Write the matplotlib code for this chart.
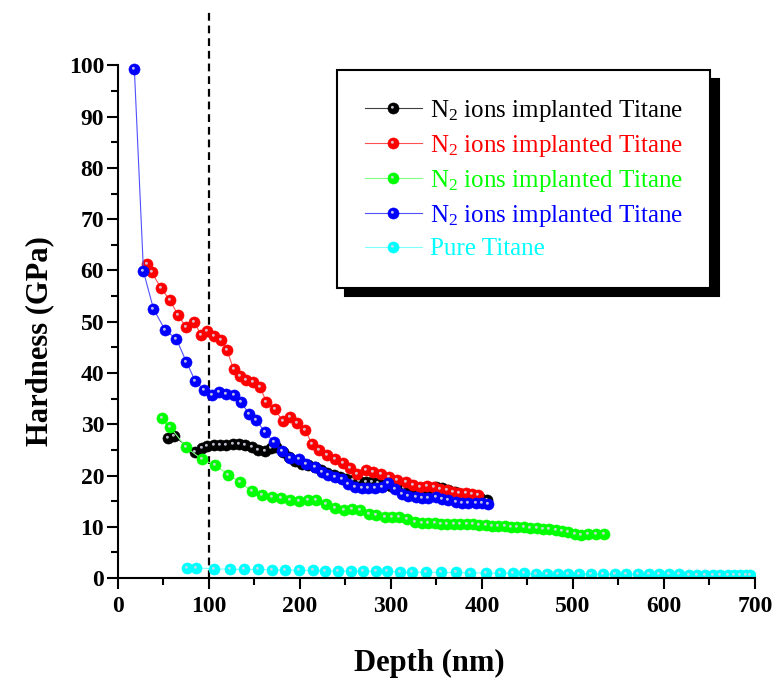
import numpy as np
import matplotlib
matplotlib.use("Agg")
import matplotlib.pyplot as plt
from matplotlib.path import Path
from matplotlib.legend_handler import HandlerTuple

plt.rcParams['font.family'] = ['Liberation Serif', 'DejaVu Serif']
plt.rcParams['mathtext.fontset'] = 'custom'
plt.rcParams['mathtext.rm'] = 'Liberation Serif'
plt.rcParams['mathtext.it'] = 'Liberation Serif:italic'
plt.rcParams['mathtext.bf'] = 'Liberation Serif:bold'

# depth (nm) / hardness (GPa)
black_x = [55, 61, 85, 92, 98, 105, 112, 119, 126, 133, 140, 147, 154, 161, 168, 174,
           181, 188, 195, 202, 209, 216, 223, 230, 237, 244, 251, 258, 265, 272, 279,
           286, 293, 300, 307, 314, 321, 328, 335, 342, 349, 356, 363, 370, 377, 384,
           391, 398, 405]
black_y = [27.4, 27.7, 24.6, 25.3, 25.7, 25.9, 26.0, 26.0, 26.1, 26.1, 26.0, 25.5, 24.9,
           24.8, 25.3, 25.6, 24.5, 23.6, 22.8, 22.3, 22.0, 21.6, 21.0, 20.5, 20.1, 19.7,
           19.4, 19.1, 18.9, 18.8, 18.7, 18.5, 18.2, 17.9, 17.8, 17.6, 17.6, 17.5, 17.5,
           17.6, 17.7, 17.6, 17.2, 16.8, 16.5, 16.2, 15.9, 15.6, 15.3]

red_x = [32, 37, 47, 57, 66, 75, 84, 91, 98, 106, 113, 120, 127, 134, 141, 148, 156, 163,
         172, 181, 189, 197, 206, 213, 221, 230, 238, 247, 255, 263, 273, 280, 289, 298,
         307, 316, 324, 332, 340, 347, 354, 361, 368, 375, 382, 389, 396]
red_y = [61.2, 59.7, 56.6, 54.2, 51.3, 48.9, 50.0, 47.4, 48.2, 47.2, 46.5, 44.4, 40.7,
         39.4, 38.6, 38.3, 37.3, 34.4, 32.9, 30.7, 31.4, 30.2, 28.8, 26.2, 25.0, 24.0,
         23.3, 22.4, 21.4, 20.4, 21.0, 20.7, 20.4, 19.7, 19.1, 18.8, 18.2, 17.8, 17.9,
         17.8, 17.4, 17.1, 16.8, 16.6, 16.6, 16.4, 16.2]

green_x = [48, 57, 75, 92, 107, 121, 134, 147, 158, 169, 179, 189, 199, 209, 218, 229,
           238, 248, 257, 266, 276, 284, 293, 301, 309, 318, 326, 334, 341, 348, 355, 362,
           369, 376, 383, 390, 397, 404, 411, 418, 425, 432, 439, 446, 453, 460, 467, 474,
           481, 488, 495, 502, 509, 517, 525, 534]
green_y = [31.2, 29.5, 25.5, 23.2, 22.0, 20.2, 18.7, 17.0, 16.3, 15.8, 15.7, 15.2, 15.1,
           15.2, 15.3, 14.4, 13.6, 13.3, 13.5, 13.2, 12.6, 12.4, 11.9, 12.0, 11.9, 11.6,
           11.0, 10.8, 10.7, 10.7, 10.6, 10.6, 10.6, 10.6, 10.5, 10.5, 10.4, 10.3, 10.2,
           10.2, 10.1, 10.0, 9.9, 9.9, 9.8, 9.8, 9.6, 9.5, 9.4, 9.2, 9.0, 8.6, 8.5, 8.6,
           8.6, 8.7]

blue_x = [18, 28, 39, 52, 64, 75, 85, 95, 103, 111, 119, 128, 135, 144, 152, 161, 171,
          180, 189, 199, 207, 216, 224, 231, 238, 246, 253, 260, 268, 275, 282, 290, 297,
          304, 312, 319, 327, 334, 341, 349, 356, 363, 371, 378, 385, 393, 400, 407]
blue_y = [99.2, 59.8, 52.5, 48.3, 46.7, 42.2, 38.4, 36.6, 35.7, 36.3, 35.9, 35.8, 34.4,
          32.0, 30.9, 28.5, 26.6, 24.8, 23.4, 23.2, 22.2, 21.7, 20.7, 20.1, 19.7, 19.4,
          18.3, 17.8, 17.5, 17.5, 17.5, 17.7, 18.6, 17.4, 16.4, 16.0, 15.8, 15.7, 15.6,
          15.8, 15.5, 15.2, 14.9, 14.7, 14.6, 14.6, 14.6, 14.4]

cyan_x = [76, 86, 106, 123, 139, 154, 169, 184, 199, 214, 228, 242, 256, 269, 283, 296,
          310, 323, 339, 355, 371, 387, 404, 420, 434, 446, 459, 471, 483, 495, 507, 520,
          533, 546, 558, 571, 583, 595, 606, 617, 627, 636, 645, 654, 662, 670, 677, 684,
          690, 695]
cyan_y = [2.0, 2.0, 1.8, 1.75, 1.7, 1.7, 1.65, 1.6, 1.55, 1.5, 1.45, 1.4, 1.35, 1.35,
          1.3, 1.3, 1.25, 1.2, 1.15, 1.1, 1.1, 1.05, 1.0, 1.0, 0.95, 0.95, 0.9, 0.9, 0.9,
          0.85, 0.85, 0.85, 0.8, 0.8, 0.8, 0.8, 0.75, 0.75, 0.75, 0.75, 0.7, 0.7, 0.7,
          0.7, 0.7, 0.7, 0.65, 0.65, 0.65, 0.65]

series = [(black_x, black_y), (red_x, red_y), (green_x, green_y),
          (blue_x, blue_y), (cyan_x, cyan_y)]
labels = [r'N$_2$ ions implanted Titane'] * 4 + ['Pure Titane']
colors = ['#000000', '#ff0000', '#00ff00', '#0000ff', '#00ffff']
line_colors = ['#404040', '#ff5050', '#80ff80', '#5050ff', '#80ffff']

# little shiny spot so the markers look like balls
# (the two moveto points only fix the marker scale)
spot = Path.make_compound_path(
    Path([[-1, -1], [1, 1]], [Path.MOVETO, Path.MOVETO]),
    Path.circle(center=(-0.2, 0.22), radius=0.26))

fig = plt.figure(figsize=(7.84, 6.85), dpi=100)
ax = fig.add_axes([0.1505, 0.156, 0.8125, 0.831])

ms = 8
handles = []
for (x, y), c, lc in zip(series, colors, line_colors):
    ln, = ax.plot(x, y, '-', color=lc, lw=0.8, marker='o', ms=ms,
                  mfc=c, mec=c, mew=0.4)
    sh, = ax.plot(x, y, ls='none', marker=spot, ms=ms, mfc='#d4d4e4',
                  mec='none', alpha=0.9)
    handles.append((ln, sh))

ax.axvline(100, color='black', lw=1.6, ls=(0, (3.5, 2.2)), zorder=0.5)

ax.set_xlim(0, 700)
ax.set_ylim(0, 111)
ax.spines['top'].set_visible(False)
ax.spines['right'].set_visible(False)
ax.spines['left'].set_bounds(0, 100)
for s in ['left', 'bottom']:
    ax.spines[s].set_linewidth(1.5)

ax.set_xticks(np.arange(0, 701, 100))
ax.set_xticks(np.arange(50, 700, 100), minor=True)
ax.set_yticks(np.arange(0, 101, 10))
ax.set_yticks(np.arange(5, 100, 10), minor=True)
ax.tick_params(which='major', direction='out', length=8, width=1.5, labelsize=17)
ax.tick_params(which='minor', direction='out', length=5, width=1.5)
ax.tick_params(axis='x', pad=5)
ax.tick_params(axis='y', pad=2)
for lab in ax.get_xticklabels() + ax.get_yticklabels():
    lab.set_fontweight('bold')

fig.text(0.547, 0.032, 'Depth (nm)', ha='center', va='center',
         fontsize=22, fontweight='bold')
fig.text(0.051, 0.502, 'Hardness (GPa)', ha='center', va='center',
         rotation=90, fontsize=22, fontweight='bold')

leg = ax.legend(handles, labels, handler_map={tuple: HandlerTuple(ndivide=1)},
                loc='upper left', bbox_to_anchor=(0.344, 0.892),
                prop={'family': 'Liberation Serif', 'size': 18},
                frameon=True, fancybox=False, edgecolor='black',
                shadow={'ox': 6, 'oy': -6, 'color': 'black', 'alpha': 1},
                handlelength=2.3, handletextpad=0.3, labelspacing=0.36,
                borderpad=1.1, borderaxespad=0)
leg.get_frame().set_linewidth(1.5)
for t, c in zip(leg.get_texts(), colors):
    t.set_color(c)

fig.savefig('out.png', dpi=100)
